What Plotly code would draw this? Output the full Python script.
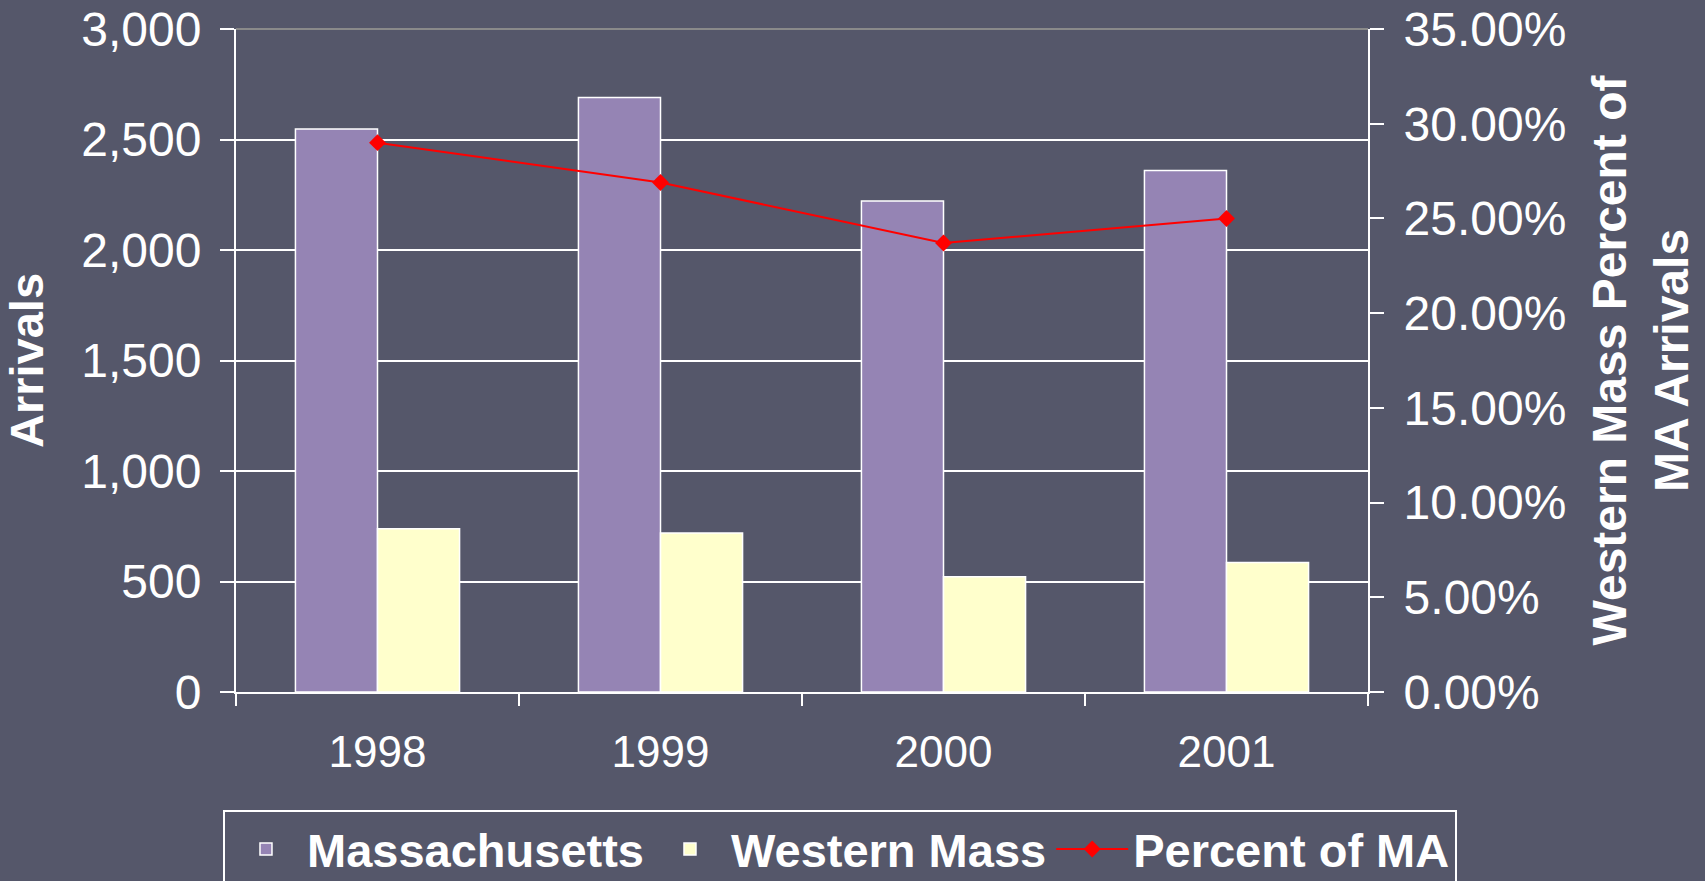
import plotly.graph_objects as go

years = ["1998", "1999", "2000", "2001"]
massachusetts = [2547, 2690, 2222, 2360]
western_mass = [739, 719, 522, 586]
percent_of_ma = [0.290, 0.269, 0.237, 0.250]

y_ticks = [0, 500, 1000, 1500, 2000, 2500, 3000]
y2_ticks = [0, 0.05, 0.10, 0.15, 0.20, 0.25, 0.30, 0.35]

BG = "#55576a"
WHITE = "#ffffff"
FONT = "Liberation Sans, Arial, sans-serif"

fig = go.Figure()
fig.add_trace(go.Bar(
    x=years, y=massachusetts, name="Massachusetts",
    marker=dict(color="#9584b4", line=dict(color=WHITE, width=1.5)),
))
fig.add_trace(go.Bar(
    x=years, y=western_mass, name="Western Mass",
    marker=dict(color="#ffffcc", line=dict(color=WHITE, width=1.5)),
))
fig.add_trace(go.Scatter(
    x=years, y=percent_of_ma, name="Percent of MA", yaxis="y2",
    mode="lines+markers",
    line=dict(color="#ff0000", width=2),
    marker=dict(symbol="diamond", size=13, color="#ff0000"),
))

fig.update_layout(
    width=1705, height=881,
    paper_bgcolor=BG, plot_bgcolor=BG,
    font=dict(family=FONT, color=WHITE),
    margin=dict(l=236, r=337, t=29, b=189, autoexpand=False),
    barmode="group", bargap=0.42, bargroupgap=0,
    showlegend=True,
    legend=dict(
        orientation="h",
        x=-0.0115, xanchor="left",
        y=-0.178, yanchor="top",
        font=dict(size=47, family=FONT, color=WHITE, weight="bold"),
        bordercolor=WHITE, borderwidth=2, bgcolor="rgba(0,0,0,0)",
        itemwidth=72, traceorder="normal",
    ),
    xaxis=dict(
        type="category", tickson="boundaries", automargin=False,
        showline=True, linecolor=WHITE, linewidth=2,
        ticks="outside", ticklen=12, tickwidth=1.5, tickcolor=WHITE,
        tickfont=dict(size=44, color=WHITE), ticklabelstandoff=20,
        showgrid=False,
    ),
    yaxis=dict(
        range=[0, 3000], tickvals=y_ticks, tickformat=",d", automargin=False,
        showline=True, linecolor=WHITE, linewidth=2,
        ticks="outside", ticklen=14, tickwidth=1.5, tickcolor=WHITE,
        tickfont=dict(size=48, color=WHITE), ticklabelstandoff=9,
        showgrid=True, gridcolor=WHITE, gridwidth=2,
        zeroline=False,
        title=dict(text="<b>Arrivals</b>", font=dict(size=47, color=WHITE), standoff=25),
    ),
    yaxis2=dict(
        overlaying="y", side="right", automargin=False,
        range=[0, 0.35], tickvals=y2_ticks, tickformat=".2%",
        showline=True, linecolor=WHITE, linewidth=2,
        ticks="outside", ticklen=14, tickwidth=1.5, tickcolor=WHITE,
        tickfont=dict(size=48, color=WHITE), ticklabelstandoff=10,
        showgrid=False, zeroline=False,
        title=dict(text="<b>Western Mass Percent of<br>MA Arrivals</b>",
                   font=dict(size=48, color=WHITE), standoff=27),
    ),
    shapes=[dict(
        type="line", xref="x domain", yref="y domain",
        x0=0, x1=1, y0=1, y1=1,
        line=dict(color="#8a8a8a", width=2), layer="above",
    )],
)

fig.write_html(
    "out.html",
    config={"displayModeBar": False},
    post_script="document.body.style.margin='0';document.body.style.background='" + BG + "';",
)
